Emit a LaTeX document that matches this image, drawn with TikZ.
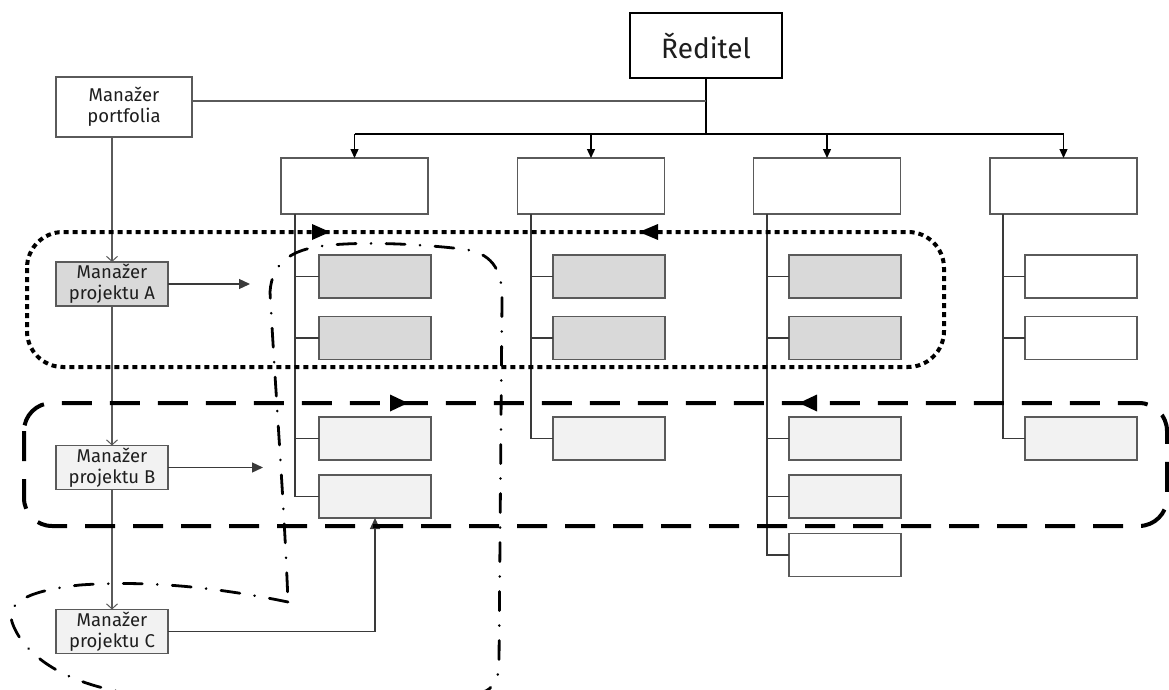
\documentclass[tikz,border=0pt]{standalone}
\usepackage{fontspec}
\setmainfont{Fira Sans}
\usetikzlibrary{arrows.meta}
\definecolor{gfill}{HTML}{D9D9D9}
\definecolor{lfill}{HTML}{F2F2F2}
\definecolor{edge}{HTML}{5A5A5A}
\definecolor{conn}{HTML}{3A3A3A}
\definecolor{txt}{HTML}{1E1E1E}
\begin{document}
\begin{tikzpicture}[x=1pt,y=-1pt,
  every node/.style={inner sep=0pt, outer sep=0pt},
  box/.style={draw=edge, line width=1.6pt, fill=white},
  topbox/.style={box, minimum width=147pt, minimum height=56pt},
  sub/.style={box, minimum width=112pt, minimum height=43pt},
  gbox/.style={sub, fill=gfill},
  lbox/.style={sub, fill=lfill},
  mgr/.style={box, minimum width=112pt, minimum height=44pt, align=center, text=txt,
    font=\fontsize{18.5}{21}\selectfont},
  bus/.style={line width=1.5pt, black},
  busarrow/.style={line width=1.3pt, black, -{Triangle[length=9pt,width=8pt]}},
  chain/.style={line width=1.3pt, edge, -{Straight Barb[length=5pt,width=11pt,line width=1pt]}},
  feed/.style={line width=1.3pt, conn, -{Triangle[length=11pt,width=10pt]}},
  col/.style={line width=1.6pt, conn},
  tick/.style={line width=1.2pt, conn},
  dotline/.style={line width=4pt, black, dash pattern=on 5pt off 4pt},
  dashline/.style={line width=4pt, black, dash pattern=on 30pt off 18pt},
  dashdot/.style={line width=2.8pt, black, line cap=round, dash pattern=on 19pt off 15pt on 0.01pt off 15pt},
]
\useasboundingbox (0,0) rectangle (1169,690);
\fill[white] (0,0) rectangle (1169,690);

% director
\node[draw=black, line width=2.4pt, fill=white, minimum width=152pt, minimum height=65pt,
  font=\fontsize{28}{32}\selectfont, text=txt] (red) at (706,45.5) {Ředitel};
\node[box, minimum width=136pt, minimum height=60pt, align=center, text=txt,
  font=\fontsize{18.5}{21}\selectfont] (port) at (124,107) {Manažer\\portfolia};

% top boxes
\node[topbox] (t1) at (354.5,186) {};
\node[topbox] (t2) at (591,186) {};
\node[topbox] (t3) at (827,186) {};
\node[topbox] (t4) at (1063.5,186) {};

\coordinate (busc) at (706,134);
\coordinate (portc) at (706,101);
\draw[line width=2.2pt, black] (red.south) -- (busc);
\draw[line width=1.3pt, edge] (port.east |- portc) -- (portc);
\draw[bus] (t1.north |- busc) -- (t4.north |- busc);
\foreach \t in {t1,t2,t3,t4} \draw[busarrow] (\t.north |- busc) -- (\t.north);

% sub boxes
\node[gbox] (a11) at (375,276.5) {};
\node[gbox] (a12) at (375,338) {};
\node[lbox] (b11) at (375,438.5) {};
\node[lbox] (b12) at (375,496.5) {};
\node[gbox] (a21) at (609,276.5) {};
\node[gbox] (a22) at (609,338) {};
\node[lbox] (b21) at (609,438.5) {};
\node[gbox] (a31) at (845,276.5) {};
\node[gbox] (a32) at (845,338) {};
\node[lbox] (b31) at (845,438.5) {};
\node[lbox] (b32) at (845,496.5) {};
\node[sub] (c31) at (845,555) {};
\node[sub] (w41) at (1081,276.5) {};
\node[sub] (w42) at (1081,338) {};
\node[lbox] (b41) at (1081,438.5) {};

% column spines
\coordinate (s1) at (295,214);
\coordinate (s2) at (531,214);
\coordinate (s3) at (767,214);
\coordinate (s4) at (1003,214);
\draw[col] (s1) -- (s1 |- b12.west) -- (b12.west);
\foreach \b in {a11,a12,b11} \draw[tick] (s1 |- \b.west) -- (\b.west);
\draw[col] (s2) -- (s2 |- b21.west) -- (b21.west);
\foreach \b in {a21,a22} \draw[tick] (s2 |- \b.west) -- (\b.west);
\draw[col] (s3) -- (s3 |- c31.west) -- (c31.west);
\foreach \b in {a31,a32,b31,b32} \draw[tick] (s3 |- \b.west) -- (\b.west);
\draw[col] (s4) -- (s4 |- b41.west) -- (b41.west);
\foreach \b in {w41,w42} \draw[tick] (s4 |- \b.west) -- (\b.west);

% project managers
\node[mgr, fill=gfill] (ma) at (112,284) {Manažer\\projektu A};
\node[mgr, fill=lfill] (mb) at (112,467.5) {Manažer\\projektu B};
\node[mgr, fill=lfill] (mc) at (112,631.5) {Manažer\\projektu C};
\draw[chain] (ma.north |- port.south) -- (ma.north);
\draw[chain] (ma.south) -- (mb.north);
\draw[chain] (mb.south) -- (mc.north);
\coordinate (ea) at (250,284);
\coordinate (eb) at (263,467.5);
\draw[feed] (ma.east) -- (ea);
\draw[feed] (mb.east) -- (eb);
\draw[feed] (mc.east) -| (b12.south);

% outlines
\draw[dotline, rounded corners=36pt] (27,232) rectangle (944,367);
\fill (312,224) -- (330,232) -- (312,240) -- cycle;
\fill (658,224) -- (639,232) -- (658,240) -- cycle;

\draw[dashline, rounded corners=28pt] (24,403) rectangle (1167,526);
\fill (390,394.5) -- (408,403) -- (390,411.5) -- cycle;
\fill (817,394.5) -- (799,403) -- (817,411.5) -- cycle;

\draw[dashdot] (288,602) .. controls (220,588) and (150,580) .. (80,585)
  .. controls (35,590) and (5,600) .. (12,622)
  .. controls (22,652) and (60,684) .. (135,694)
  -- (470,694) .. controls (492,694) and (499,682) .. (499,662)
  -- (502,300) .. controls (503,268) and (490,252) .. (462,249)
  .. controls (420,244) and (360,241) .. (322,246)
  .. controls (292,250) and (272,262) .. (270,292)
  .. controls (276,400) and (284,500) .. (288,602) -- cycle;
\end{tikzpicture}
\end{document}
